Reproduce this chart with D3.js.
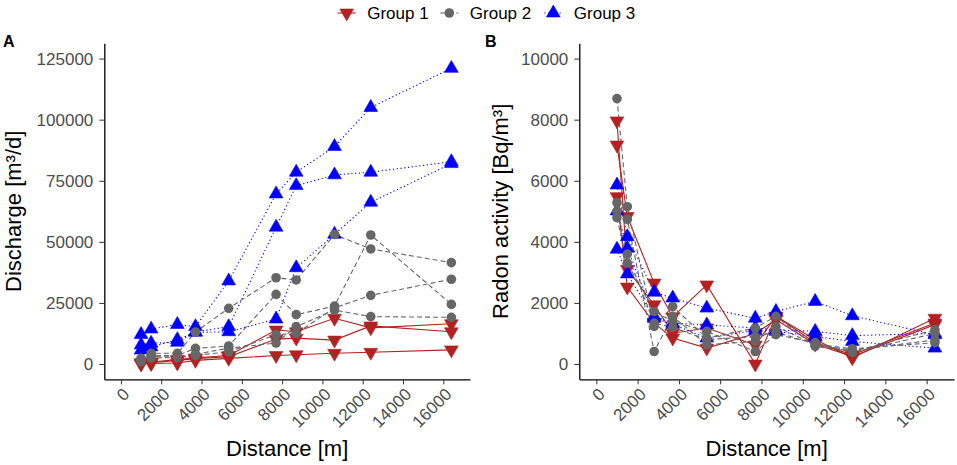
<!DOCTYPE html>
<html>
<head>
<meta charset="utf-8">
<script src="https://cdn.jsdelivr.net/npm/d3@7"></script>
<style>
  html, body { margin: 0; padding: 0; background: #fff; }
  svg text { font-family: "Liberation Sans", Arial, sans-serif; }
</style>
</head>
<body>
<div id="chart"></div>
<script>
(function() {
"use strict";

// sampling points along the stream, in metres
var distances = [1000, 1500, 2800, 3700, 5350, 7700, 8700, 10600, 12400, 16400];
var xTicks = [0, 2000, 4000, 6000, 8000, 10000, 12000, 14000, 16000];
var dischargeTicks = [0, 25000, 50000, 75000, 100000, 125000];
var radonTicks = [0, 2000, 4000, 6000, 8000, 10000];
var groupNames = ["Group 1", "Group 2", "Group 3"];

// panel A, discharge [m3/d], one row per line
var dischargeG1 = [
  [0, 200, 400, 1500, 2300, 3500, 3800, 4400, 4800, 5800],
  [300, 500, 1500, 2200, 3000, 10200, 10600, 9800, 15600, 13200],
  [500, 800, 1800, 2500, 3500, 13900, 13200, 18700, 14800, 16500]
];
var dischargeG2 = [
  [2300, 4400, 4400, 13100, 22800, 35300, 34400, 53000, 47100, 41500],
  [1500, 3500, 3500, 6400, 7400, 28500, 20200, 23700, 52800, 24400],
  [1000, 3000, 3000, 4000, 6500, 8600, 15300, 22100, 19400, 19100],
  [2000, 2500, 2600, 3500, 5000, 12000, 12500, 23000, 28100, 34700]
];
var dischargeG3 = [
  [12100, 14300, 16200, 15300, 34000, 69600, 78500, 89000, 105000, 121000],
  [7800, 8500, 8900, 13200, 15300, 56000, 73000, 77400, 78500, 82800],
  [5700, 7000, 10000, 13000, 13200, 18400, 39400, 53100, 66200, 82000]
];

// panel B, radon activity [Bq/m3]
var radonG1 = [
  [7170, 4830, 2650, 1540, 2590, 0, 1560, 800, 200, 1500],
  [7960, 3100, 1940, 1010, 1180, 620, 1560, 700, 300, 1340],
  [5480, 2520, 1340, 850, 520, 1000, 1450, 650, 250, 1290]
];
var radonG2 = [
  [8690, 5150, 1230, 1880, 850, 1180, 1560, 580, 410, 1120],
  [5280, 4740, 410, 1560, 630, 740, 1230, 630, 450, 790],
  [4790, 3300, 1720, 1400, 1070, 410, 960, 700, 380, 1000],
  [5000, 3600, 1340, 1200, 800, 900, 1050, 650, 500, 700]
];
var radonG3 = [
  [5860, 4170, 2350, 2160, 1830, 1500, 1720, 2050, 1580, 960],
  [5010, 3790, 1560, 1340, 1280, 1180, 1120, 1070, 930, 1000],
  [3760, 2950, 1500, 1300, 850, 1100, 1070, 900, 740, 520]
];

var W = 957, H = 465;
var red = "#B22222", grey = "#666666", blue = "#0000FF";
var styles = [
  {name: groupNames[0], color: red, dash: null, shape: "down"},
  {name: groupNames[1], color: grey, dash: "5,3", shape: "circle"},
  {name: groupNames[2], color: blue, dash: "1.2,2.6", shape: "up"}
];

var svg = d3.select("#chart").append("svg")
  .attr("width", W)
  .attr("height", H);

var triUp = d3.symbol().type(d3.symbolTriangle).size(82);

function drawMarker(g, shape, color) {
  if (shape === "circle") {
    g.append("circle").attr("r", 4.8).attr("fill", color);
  } else {
    g.append("path")
      .attr("d", triUp())
      .attr("transform", shape === "down" ? "rotate(180)" : null)
      .attr("fill", color)
      .attr("stroke", color)
      .attr("stroke-width", 0.6);
  }
}

function panel(opt) {
  var x = d3.scaleLinear().domain([-825, 17325]).range([opt.left, opt.right]);
  var y = d3.scaleLinear().domain(opt.yDomain).range([opt.bottom, opt.top]);
  var g = svg.append("g");

  // axes
  var xa = g.append("g")
    .attr("transform", "translate(0," + opt.bottom + ")")
    .call(d3.axisBottom(x).tickValues(xTicks).tickSize(5).tickSizeOuter(0)
      .tickFormat(d3.format("d")));
  xa.selectAll("text")
    .attr("x", 0).attr("y", 0).attr("dy", null)
    .attr("text-anchor", "end")
    .attr("transform", "translate(9,16) rotate(-45)");

  var ya = g.append("g")
    .attr("transform", "translate(" + opt.left + ",0)")
    .call(d3.axisLeft(y).tickValues(opt.yTicks).tickSize(5).tickSizeOuter(0).tickPadding(6)
      .tickFormat(d3.format("d")));

  [xa, ya].forEach(function(a) {
    a.select(".domain").attr("stroke", "#000").attr("stroke-width", 1.3);
    a.selectAll(".tick line").attr("stroke", "#333").attr("stroke-width", 1);
    a.selectAll(".tick text")
      .attr("fill", "#4D4D4D")
      .style("font-size", "17px");
  });

  // lines then points
  var line = d3.line()
    .x(function(d, i) { return x(distances[i]); })
    .y(function(d) { return y(d); });

  var order = [0, 2, 1];
  order.forEach(function(k) {
    opt.series[k].forEach(function(vals) {
      g.append("path")
        .attr("d", line(vals))
        .attr("fill", "none")
        .attr("stroke", styles[k].color)
        .attr("stroke-width", 1.1)
        .attr("stroke-dasharray", styles[k].dash);
    });
  });
  order.forEach(function(k) {
    opt.series[k].forEach(function(vals) {
      vals.forEach(function(v, i) {
        var m = g.append("g")
          .attr("transform", "translate(" + x(distances[i]) + "," + y(v) + ")");
        drawMarker(m, styles[k].shape, styles[k].color);
      });
    });
  });

  // titles
  g.append("text")
    .attr("x", (opt.left + opt.right) / 2)
    .attr("y", 456)
    .attr("text-anchor", "middle")
    .style("font-size", "22px")
    .text("Distance [m]");
  g.append("text")
    .attr("transform", "translate(" + opt.yTitleX + "," + ((opt.top + opt.bottom) / 2) + ") rotate(-90)")
    .attr("text-anchor", "middle")
    .style("font-size", "22px")
    .text(opt.yTitle);
  g.append("text")
    .attr("x", opt.tagX)
    .attr("y", 47)
    .style("font-size", "16px")
    .style("font-weight", "bold")
    .text(opt.tag);
}

panel({
  left: 104.3, right: 470, top: 43.3, bottom: 379.3,
  yDomain: [-6250, 131250], yTicks: dischargeTicks,
  series: [dischargeG1, dischargeG2, dischargeG3],
  yTitle: "Discharge [m³/d]", yTitleX: 21, tag: "A", tagX: 3
});

panel({
  left: 579.3, right: 954, top: 43.3, bottom: 379.3,
  yDomain: [-500, 10500], yTicks: radonTicks,
  series: [radonG1, radonG2, radonG3],
  yTitle: "Radon activity [Bq/m³]", yTitleX: 508, tag: "B", tagX: 485
});

// legend along the top
var keyX = [346.7, 449.3, 553.3];
var legend = svg.append("g");
styles.forEach(function(s, i) {
  var item = legend.append("g").attr("transform", "translate(" + keyX[i] + ",13)");
  item.append("line")
    .attr("x1", -9).attr("x2", 9)
    .attr("stroke", s.color)
    .attr("stroke-width", 1.1)
    .attr("stroke-dasharray", s.dash);
  drawMarker(item, s.shape, s.color);
  item.append("text")
    .attr("x", 20.5)
    .attr("y", 5.5)
    .style("font-size", "17px")
    .text(s.name);
});

})();
</script>
</body>
</html>
